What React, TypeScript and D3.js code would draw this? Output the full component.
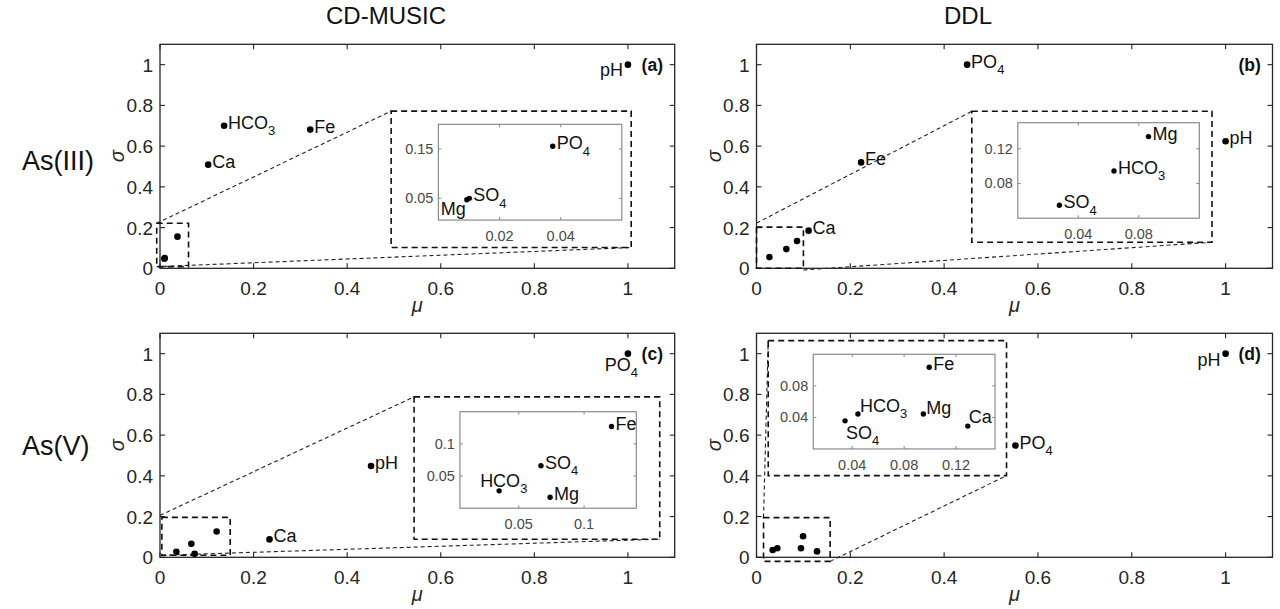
import React from "react";
import * as d3 from "d3";

// ---------------- data ----------------
const columnTitles = ["CD-MUSIC", "DDL"];
const rowTitles = ["As(III)", "As(V)"];
const panelTags = ["(a)", "(b)", "(c)", "(d)"];

const xTicks = [0, 0.2, 0.4, 0.6, 0.8, 1];
const yTicks = [0, 0.2, 0.4, 0.6, 0.8, 1];

// (a) CD-MUSIC, As(III)
const namesA = ["pH", "HCO3", "Fe", "Ca", "PO4", "SO4", "Mg"];
const muA = [1.0, 0.137, 0.321, 0.103, 0.0374, 0.0101, 0.0093];
const sigmaA = [1.0, 0.7, 0.681, 0.509, 0.1555, 0.05, 0.047];
const insetXTicksA = [0.02, 0.04];
const insetYTicksA = [0.05, 0.15];

// (b) DDL, As(III)
const namesB = ["PO4", "pH", "Fe", "Ca", "Mg", "HCO3", "SO4"];
const muB = [0.449, 1.0, 0.223, 0.111, 0.0864, 0.0636, 0.0275];
const sigmaB = [1.0, 0.624, 0.52, 0.185, 0.134, 0.0944, 0.055];
const insetXTicksB = [0.04, 0.08];
const insetYTicksB = [0.08, 0.12];

// (c) CD-MUSIC, As(V)
const namesC = ["PO4", "pH", "Ca", "Fe", "SO4", "HCO3", "Mg"];
const muC = [1.0, 0.451, 0.234, 0.121, 0.067, 0.035, 0.074];
const sigmaC = [1.0, 0.448, 0.088, 0.127, 0.066, 0.027, 0.017];
const insetXTicksC = [0.05, 0.1];
const insetYTicksC = [0.05, 0.1];

// (d) DDL, As(V)
const namesD = ["pH", "PO4", "Fe", "Mg", "Ca", "HCO3", "SO4"];
const muD = [1.0, 0.552, 0.0993, 0.0948, 0.129, 0.0444, 0.0345];
const sigmaD = [1.0, 0.549, 0.1036, 0.0443, 0.029, 0.0443, 0.0356];
const insetXTicksD = [0.04, 0.08, 0.12];
const insetYTicksD = [0.04, 0.08];

// ---------------- layout / style ----------------
const FONT = "Arial, 'Liberation Sans', Helvetica, sans-serif";
const AX = "#262626";
const LABEL_SIZE = 18;

type Box = [number, number, number, number]; // x0,x1,y0,y1 in main data units
type Place = { anchor: "start" | "end"; dx: number; dy: number };

interface PanelCfg {
  tag: string;
  names: string[];
  mu: number[];
  sigma: number[];
  left: number;
  bottom: number;
  width: number;
  height: number;
  insetXDom: [number, number];
  insetYDom: [number, number];
  insetXTicks: number[];
  insetYTicks: number[];
  insetBox: Box;
  bigBox: Box;
  smallBox: Box;
  connectors: [[number, number], [number, number]][];
  place: Record<string, Place>;
}

const DEF: Place = { anchor: "start", dx: 4, dy: 3 };

const panels: PanelCfg[] = [
  {
    tag: panelTags[0], names: namesA, mu: muA, sigma: sigmaA,
    left: 160, bottom: 268.3, width: 514.7, height: 224,
    insetXDom: [0, 0.06], insetYDom: [0.006, 0.2],
    insetXTicks: insetXTicksA, insetYTicks: insetYTicksA,
    insetBox: [0.595, 0.987, 0.237, 0.707],
    bigBox: [0.494, 1.007, 0.102, 0.772],
    smallBox: [-0.007, 0.061, 0.008, 0.221],
    connectors: [[[-0.007, 0.221], [0.494, 0.772]], [[-0.007, 0.008], [1.007, 0.102]]],
    place: {
      "main-pH": { anchor: "end", dx: -5, dy: 11 },
      "inset-Mg": { anchor: "end", dx: -1, dy: 15 },
    },
  },
  {
    tag: panelTags[1], names: namesB, mu: muB, sigma: sigmaB,
    left: 756.5, bottom: 268.3, width: 516, height: 224,
    insetXDom: [0, 0.12], insetYDom: [0.04, 0.15],
    insetXTicks: insetXTicksB, insetYTicks: insetYTicksB,
    insetBox: [0.557, 0.944, 0.246, 0.715],
    bigBox: [0.459, 0.971, 0.128, 0.771],
    smallBox: [0, 0.1, 0, 0.202],
    connectors: [[[0, 0.222], [0.459, 0.771]], [[0.1, -0.008], [0.971, 0.128]]],
    place: {},
  },
  {
    tag: panelTags[2], names: namesC, mu: muC, sigma: sigmaC,
    left: 160, bottom: 557.3, width: 514.7, height: 224,
    insetXDom: [0.005, 0.14], insetYDom: [0, 0.15],
    insetXTicks: insetXTicksC, insetYTicks: insetYTicksC,
    insetBox: [0.641, 1.018, 0.241, 0.715],
    bigBox: [0.543, 1.068, 0.089, 0.788],
    smallBox: [0.004, 0.15, 0.01, 0.196],
    connectors: [[[0.0, 0.206], [0.543, 0.788]], [[0.004, 0.01], [1.068, 0.089]]],
    place: {
      "main-PO4": { anchor: "end", dx: 10, dy: 17 },
      "inset-HCO3": { anchor: "start", dx: -19, dy: -4 },
    },
  },
  {
    tag: panelTags[3], names: namesD, mu: muD, sigma: sigmaD,
    left: 756.5, bottom: 557.3, width: 516, height: 224,
    insetXDom: [0.01, 0.15], insetYDom: [0, 0.12],
    insetXTicks: insetXTicksD, insetYTicks: insetYTicksD,
    insetBox: [0.121, 0.5085, 0.532, 0.997],
    bigBox: [0.025, 0.533, 0.401, 1.064],
    smallBox: [0.015, 0.157, -0.02, 0.195],
    connectors: [[[0.015, 0.195], [0.025, 1.064]], [[0.157, -0.02], [0.533, 0.401]]],
    place: {
      "main-pH": { anchor: "end", dx: -5, dy: 12 },
      "inset-HCO3": { anchor: "start", dx: 2, dy: -2 },
      "inset-Mg": { anchor: "start", dx: 3, dy: 0 },
      "inset-Ca": { anchor: "start", dx: 1, dy: -3 },
      "inset-SO4": { anchor: "start", dx: 1, dy: 18 },
    },
  },
];

function Label({ name, x, y, p, size }: { name: string; x: number; y: number; p: Place; size: number }) {
  const m = name.match(/^(.*?)(\d+)$/);
  return (
    <text x={x + p.dx} y={y + p.dy} textAnchor={p.anchor} fontSize={size} fontFamily={FONT} fill="#111">
      {m ? (
        <>
          {m[1]}
          <tspan fontSize={size * 0.72} dy={size * 0.36}>{m[2]}</tspan>
        </>
      ) : (
        name
      )}
    </text>
  );
}

function Panel({ cfg }: { cfg: PanelCfg }) {
  const x = d3.scaleLinear().domain([0, 1.1]).range([cfg.left, cfg.left + cfg.width]);
  const y = d3.scaleLinear().domain([0, 1.1]).range([cfg.bottom, cfg.bottom - cfg.height]);
  const top = cfg.bottom - cfg.height;
  const right = cfg.left + cfg.width;
  const tl = 5;

  const [sx0, sx1, sy0, sy1] = cfg.smallBox;
  const [bx0, bx1, by0, by1] = cfg.bigBox;
  const [ix0, ix1, iy0, iy1] = cfg.insetBox;

  const ix = d3.scaleLinear().domain(cfg.insetXDom).range([x(ix0), x(ix1)]);
  const iy = d3.scaleLinear().domain(cfg.insetYDom).range([y(iy0), y(iy1)]);
  const iL = x(ix0), iR = x(ix1), iT = y(iy1), iB = y(iy0);

  const inSmall = (u: number, v: number) => u >= sx0 && u <= sx1 && v >= sy0 && v <= sy1;
  const idx = cfg.names.map((_, i) => i);

  return (
    <g>
      <rect x={cfg.left} y={top} width={cfg.width} height={cfg.height} fill="white" stroke={AX} strokeWidth={1.3} />
      {xTicks.map((t) => (
        <g key={"xt" + t}>
          <line x1={x(t)} x2={x(t)} y1={cfg.bottom} y2={cfg.bottom - tl} stroke={AX} strokeWidth={1.1} />
          <line x1={x(t)} x2={x(t)} y1={top} y2={top + tl} stroke={AX} strokeWidth={1.1} />
          <text x={x(t)} y={cfg.bottom + 27} textAnchor="middle" fontSize={19} fontFamily={FONT} fill={AX}>
            {String(t)}
          </text>
        </g>
      ))}
      {yTicks.map((t) => (
        <g key={"yt" + t}>
          <line x1={cfg.left} x2={cfg.left + tl} y1={y(t)} y2={y(t)} stroke={AX} strokeWidth={1.1} />
          <line x1={right} x2={right - tl} y1={y(t)} y2={y(t)} stroke={AX} strokeWidth={1.1} />
          <text x={cfg.left - 7} y={y(t) + 7} textAnchor="end" fontSize={19} fontFamily={FONT} fill={AX}>
            {String(t)}
          </text>
        </g>
      ))}
      <text x={(cfg.left + right) / 2} y={cfg.bottom + 44} textAnchor="middle" fontSize={20} fontStyle="italic" fontFamily={FONT} fill={AX}>
        μ
      </text>
      <text transform={`translate(${cfg.left - 36},${(cfg.bottom + top) / 2}) rotate(-90)`} textAnchor="middle" fontSize={20} fontStyle="italic" fontFamily={FONT} fill={AX}>
        σ
      </text>

      {cfg.connectors.map((c, i) => (
        <line key={"c" + i} x1={x(c[0][0])} y1={y(c[0][1])} x2={x(c[1][0])} y2={y(c[1][1])} stroke="#222" strokeWidth={1.1} strokeDasharray="4 3" />
      ))}
      <rect x={x(sx0)} y={y(sy1)} width={x(sx1) - x(sx0)} height={y(sy0) - y(sy1)} fill="none" stroke="#111" strokeWidth={1.6} strokeDasharray="6 4" />
      <rect x={x(bx0)} y={y(by1)} width={x(bx1) - x(bx0)} height={y(by0) - y(by1)} fill="none" stroke="#111" strokeWidth={1.6} strokeDasharray="6 4" />

      {idx.map((i) => (
        <circle key={"p" + i} cx={x(cfg.mu[i])} cy={y(cfg.sigma[i])} r={3.3} fill="#000" />
      ))}
      {idx
        .filter((i) => !inSmall(cfg.mu[i], cfg.sigma[i]))
        .map((i) => (
          <Label key={"l" + i} name={cfg.names[i]} x={x(cfg.mu[i])} y={y(cfg.sigma[i])} p={cfg.place["main-" + cfg.names[i]] || DEF} size={LABEL_SIZE} />
        ))}

      <rect x={iL} y={iT} width={iR - iL} height={iB - iT} fill="white" stroke="#8a8a8a" strokeWidth={1.2} />
      {cfg.insetXTicks.map((t) => (
        <g key={"ixt" + t}>
          <line x1={ix(t)} x2={ix(t)} y1={iB} y2={iB - 3} stroke="#8a8a8a" />
          <line x1={ix(t)} x2={ix(t)} y1={iT} y2={iT + 3} stroke="#8a8a8a" />
          <text x={ix(t)} y={iB + 21} textAnchor="middle" fontSize={14.5} fontFamily={FONT} fill="#4a4a4a">
            {String(t)}
          </text>
        </g>
      ))}
      {cfg.insetYTicks.map((t) => (
        <g key={"iyt" + t}>
          <line x1={iL} x2={iL + 3} y1={iy(t)} y2={iy(t)} stroke="#8a8a8a" />
          <line x1={iR} x2={iR - 3} y1={iy(t)} y2={iy(t)} stroke="#8a8a8a" />
          <text x={iL - 5} y={iy(t) + 5} textAnchor="end" fontSize={14.5} fontFamily={FONT} fill="#4a4a4a">
            {String(t)}
          </text>
        </g>
      ))}
      {idx
        .filter((i) => inSmall(cfg.mu[i], cfg.sigma[i]))
        .map((i) => (
          <g key={"ip" + i}>
            <circle cx={ix(cfg.mu[i])} cy={iy(cfg.sigma[i])} r={2.7} fill="#000" />
            <Label name={cfg.names[i]} x={ix(cfg.mu[i])} y={iy(cfg.sigma[i])} p={cfg.place["inset-" + cfg.names[i]] || DEF} size={LABEL_SIZE} />
          </g>
        ))}

      <text x={x(1.075)} y={y(1) + 6} textAnchor="end" fontSize={17.5} fontWeight="bold" fontFamily={FONT} fill="#111">
        {cfg.tag}
      </text>
    </g>
  );
}

export default function App() {
  return (
    <svg width={1280} height={609} style={{ display: "block", position: "absolute", left: 0, top: 0 }}>
      <rect width={1280} height={609} fill="white" />
      {columnTitles.map((t, i) => (
        <text key={t} x={[386, 968][i]} y={24} textAnchor="middle" fontSize={24} fontFamily={FONT} fill="#111">
          {t}
        </text>
      ))}
      {rowTitles.map((t, i) => (
        <text key={t} x={22} y={[170, 455][i]} fontSize={27} fontFamily={FONT} fill="#111">
          {t}
        </text>
      ))}
      {panels.map((p) => (
        <Panel key={p.tag} cfg={p} />
      ))}
    </svg>
  );
}
